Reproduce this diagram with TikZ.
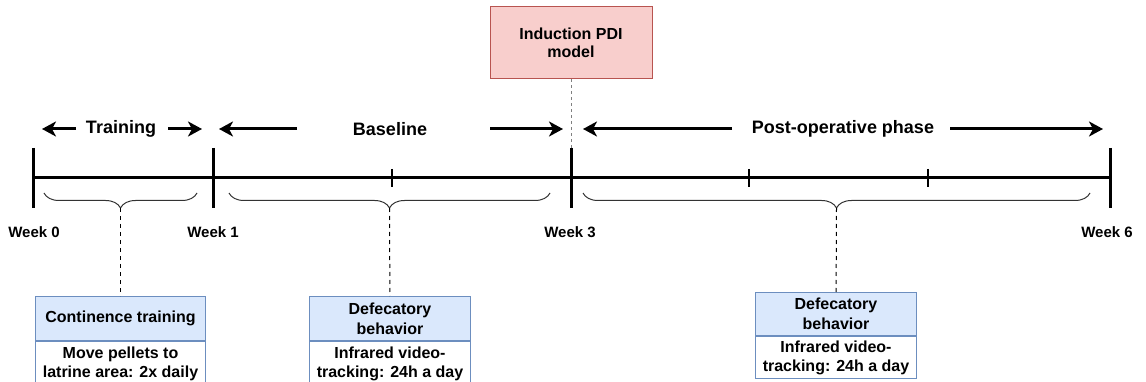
\documentclass[tikz,border=0pt]{standalone}
\usepackage{fontspec}
\setmainfont{Liberation Sans}
\usetikzlibrary{arrows.meta,positioning,decorations.pathreplacing}
\definecolor{redfill}{HTML}{F8CECC}
\definecolor{redline}{HTML}{B85450}
\definecolor{bluefill}{HTML}{DAE8FC}
\definecolor{blueline}{HTML}{6C8EBF}
\tikzset{phaselbl/.style={font=\fontsize{18}{20}\selectfont\bfseries, inner sep=0pt}}
\tikzset{weeklbl/.style={font=\fontsize{15}{18}\selectfont\bfseries, inner sep=0pt}}
\tikzset{majortick/.style={line width=3pt}}
\tikzset{minortick/.style={line width=2pt}}
\tikzset{phasearrow/.style={line width=3pt, -{Stealth[length=14pt,width=15pt,inset=4pt]}}}
\tikzset{curly/.style={decorate, decoration={brace, mirror, amplitude=15pt}, line width=1pt, black!80}}
\tikzset{headbox/.style={draw=blueline, fill=bluefill, line width=1pt, align=center, inner sep=0pt, font=\fontsize{16}{20}\selectfont\bfseries}}
\tikzset{bodybox/.style={draw=blueline, fill=white, line width=1pt, align=center, inner sep=0pt, font=\fontsize{16}{19}\selectfont\bfseries}}
\tikzset{link/.style={line width=1pt, dash pattern=on 4pt off 4pt}}

\begin{document}
\begin{tikzpicture}[x=1pt,y=-1pt]

\useasboundingbox (0,0) rectangle (1146,382);

% time line
\coordinate (w0) at (33,178);
\coordinate (w1) at (213,178);
\coordinate (w3) at (571,178);
\coordinate (w6) at (1110,178);
\draw[line width=3pt] (w0) -- (w6);
\draw[majortick] (33,148) -- (33,208);
\draw[majortick] (213,148) -- (213,208);
\draw[majortick] (571,148) coordinate (w3top) -- (571,208);
\draw[majortick] (1110,148) -- (1110,208);
\foreach \x in {392,749,928}
  \draw[minortick] (\x,169) -- (\x,187);

\node[weeklbl] (lw0) at (34,232) {Week 0};
\node[weeklbl] (lw1) at (213,232) {Week 1};
\node[weeklbl] (lw3) at (570,232) {Week 3};
\node[weeklbl] (lw6) at (1107,232) {Week 6};

% phases
\node[phaselbl] (train) at (121,129) {Training};
\node[phaselbl] (base) at (390,129) {Baseline};
\node[phaselbl] (postop) at (843,129) {Post-operative phase};

\draw[phasearrow] (76,129) -- ([xshift=9pt]w0 |- train);
\draw[phasearrow] (168,129) -- ([xshift=-11pt]w1 |- train);
\draw[phasearrow] (297,129) -- ([xshift=6pt]w1 |- base);
\draw[phasearrow] (490,129) -- ([xshift=-8pt]w3 |- base);
\draw[phasearrow] (732,129) -- ([xshift=12pt]w3 |- postop);
\draw[phasearrow] (950,129) -- ([xshift=-7pt]w6 |- postop);

% induction
\node[draw=redline, fill=redfill, line width=1pt, minimum width=162pt, minimum height=72pt, align=center,
  font=\fontsize{16}{18}\selectfont\bfseries] (pdi) at (571,43) {Induction PDI\\model};
\draw[line width=1pt, gray, dash pattern=on 3pt off 3pt] (pdi) -- (w3top);

% braces
\draw[curly] (44,193) -- (197,193);
\draw[curly] (229,193) -- (550,193);
\draw[curly] (583,193) -- (1090,193);
\coordinate (tiptrain) at (120.5,208);
\coordinate (tipbase) at (389.5,208);
\coordinate (tippost) at (836.5,208);

% boxes
\node[headbox, minimum width=170pt, minimum height=44pt, anchor=north west] (cthead) at (35,296) {Continence training};
\node[bodybox, minimum width=170pt, minimum height=44pt, anchor=north] (ctbody) at (cthead.south) {Move pellets to\\latrine area: 2x daily};

\node[headbox, minimum width=161pt, minimum height=44pt, anchor=north west] (dbhead) at (309,296) {Defecatory\\behavior};
\node[bodybox, minimum width=161pt, minimum height=44pt, anchor=north] (dbbody) at (dbhead.south) {Infrared video-\\tracking: 24h a day};

\node[headbox, minimum width=161pt, minimum height=43pt, anchor=north west] (dphead) at (755,292) {Defecatory\\behavior};
\node[bodybox, minimum width=161pt, minimum height=42pt, anchor=north] (dpbody) at (dphead.south) {Infrared video-\\tracking: 24h a day};

\draw[link] (tiptrain) -- (cthead);
\draw[link] (tipbase) -- (dbhead);
\draw[link] (tippost) -- (dphead);

\end{tikzpicture}
\end{document}
